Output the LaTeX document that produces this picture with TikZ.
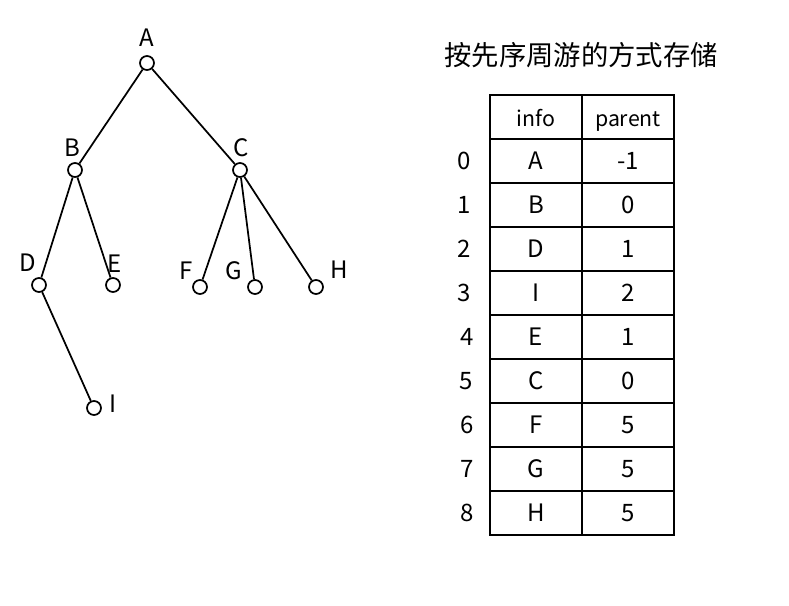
\documentclass[tikz,border=0pt]{standalone}
\usepackage{fontspec}
\setmainfont{Noto Sans CJK SC}

\tikzset{
  vertex/.style={circle,draw,line width=1.3pt,inner sep=0pt,minimum size=10.5pt,fill=white},
  lbl/.style={font=\fontsize{18}{21}\selectfont,inner sep=0pt},
  cell/.style={rectangle,draw,line width=1.5pt,inner sep=0pt,minimum width=69pt,minimum height=33pt,font=\fontsize{18}{21}\selectfont},
  headcell/.style={cell,font=\fontsize{16}{19}\selectfont,text height=16pt,text depth=1pt}
}

\begin{document}
\begin{tikzpicture}[x=0.75pt,y=-0.75pt]

      \useasboundingbox (0,0) rectangle (789,606);

      % tree
      \begin{scope}[every node/.style={vertex}]
        \node (A) at (147,63)  {};
        \node (B) at (75,170)  {};
        \node (C) at (240,170) {};
        \node (D) at (39,285)  {};
        \node (E) at (113,285) {};
        \node (F) at (200,287) {};
        \node (G) at (255,287) {};
        \node (H) at (316,287) {};
        \node (I) at (94,408)  {};
      \end{scope}

      \begin{scope}[every edge/.style={draw,line width=1.3pt}]
        \path (A) edge (B);
        \path (A) edge (C);
        \path (B) edge (D);
        \path (B) edge (E);
        \path (D) edge (I);
        \path (C) edge (F);
        \path (C) edge (G);
        \path (C) edge (H);
      \end{scope}

      \begin{scope}[every node/.style={lbl}]
        \node (lA) at (147,38)  {A};
        \node (lB) at (72,148)  {B};
        \node (lC) at (241,148) {C};
        \node (lD) at (28,263)  {D};
        \node (lE) at (115,264) {E};
        \node (lF) at (186,271) {F};
        \node (lG) at (234,271) {G};
        \node (lH) at (339,270) {H};
        \node (lI) at (113,404) {I};
      \end{scope}

      % table
      \node[font=\fontsize{20.5}{24}\selectfont] (title) at (581,55) {按先序周游的方式存储};

      \node[headcell] (h1) at (536,117) {info};
      \node[headcell] (h2) at (628,117) {parent};

      \begin{scope}[every node/.style={cell}]
        \node (a0) at (536,161) {A}; \node (p0) at (628,161) {-1};
        \node (a1) at (536,205) {B}; \node (p1) at (628,205) {0};
        \node (a2) at (536,249) {D}; \node (p2) at (628,249) {1};
        \node (a3) at (536,293) {I}; \node (p3) at (628,293) {2};
        \node (a4) at (536,337) {E}; \node (p4) at (628,337) {1};
        \node (a5) at (536,381) {C}; \node (p5) at (628,381) {0};
        \node (a6) at (536,425) {F}; \node (p6) at (628,425) {5};
        \node (a7) at (536,469) {G}; \node (p7) at (628,469) {5};
        \node (a8) at (536,513) {H}; \node (p8) at (628,513) {5};
      \end{scope}

      \begin{scope}[every node/.style={lbl}]
        \node (i0) at (464,161) {0};
        \node (i1) at (464,205) {1};
        \node (i2) at (464,249) {2};
        \node (i3) at (464,293) {3};
        \node (i4) at (467,337) {4};
        \node (i5) at (466,381) {5};
        \node (i6) at (467,425) {6};
        \node (i7) at (467,469) {7};
        \node (i8) at (467,513) {8};
      \end{scope}

    \end{tikzpicture}
\end{document}
